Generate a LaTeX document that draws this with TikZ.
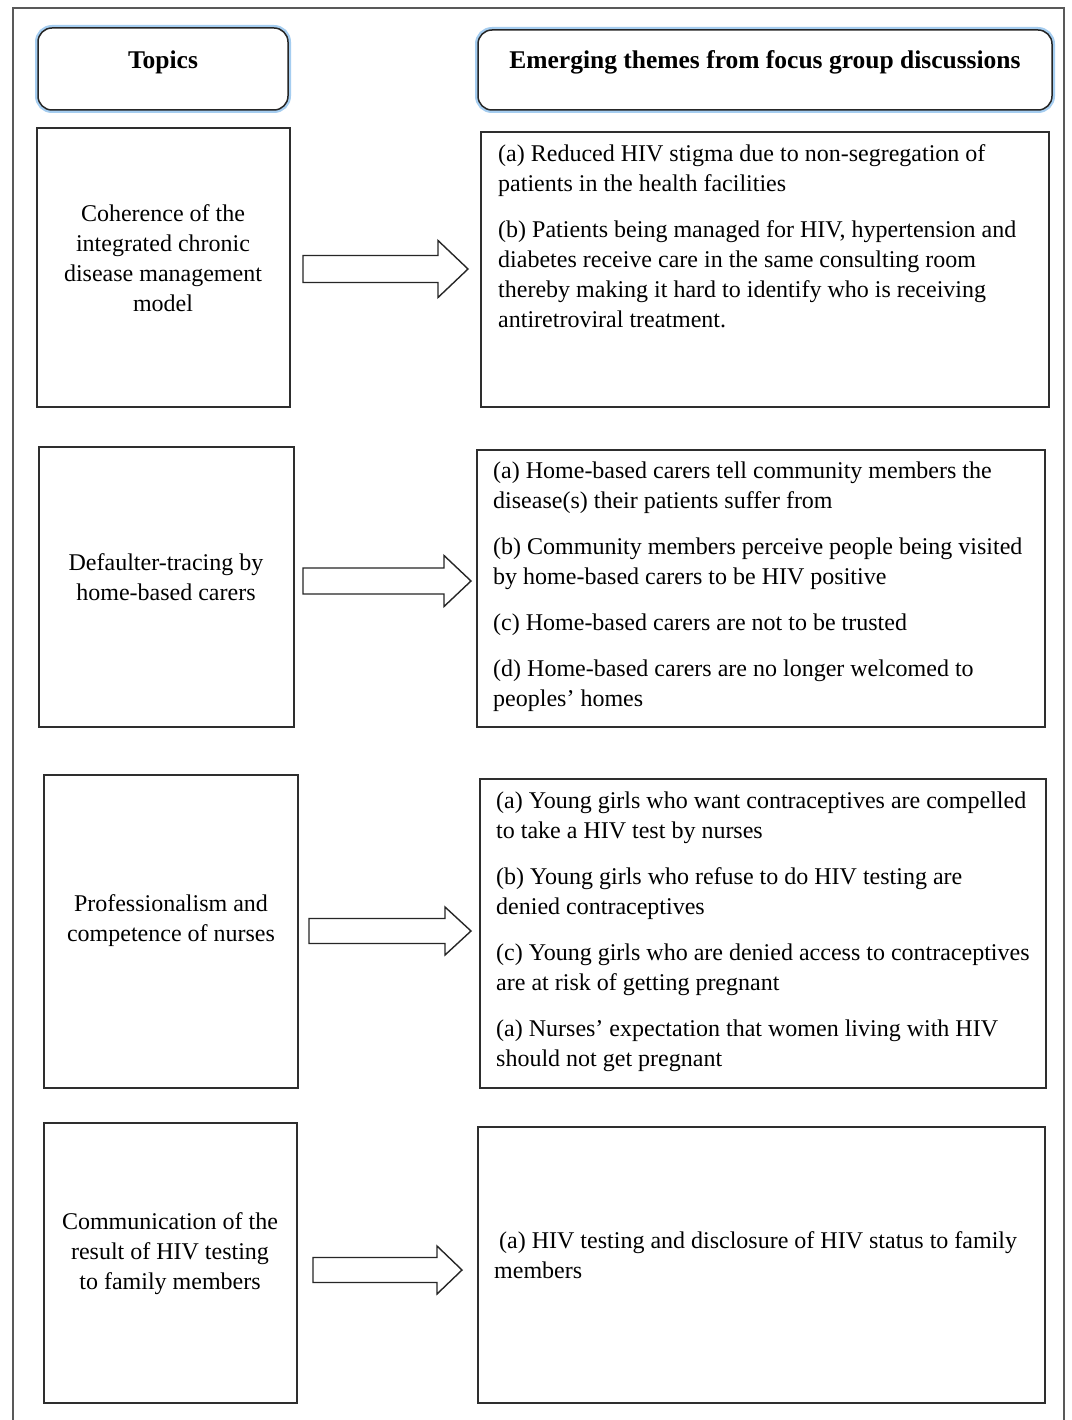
\documentclass[tikz,border=0pt]{standalone}
\usepackage{fontspec}
\setmainfont{Liberation Serif}
\definecolor{glowblue}{RGB}{165,205,240}
\begin{document}
\begin{tikzpicture}[x=1pt,y=-1pt,
  box/.style={draw=black!82, line width=1.6pt, fill=white, inner sep=0pt},
  hdr/.style={draw=black!85, line width=1.5pt, rounded corners=14pt, fill=white, inner sep=0pt},
  glow/.style={draw=glowblue, line width=6pt, rounded corners=14pt, inner sep=0pt},
  barrow/.style={draw=black!85, line width=1.4pt, fill=white, line join=miter},
  ttext/.style={font=\fontsize{24}{30}\selectfont, align=center, inner sep=0pt},
  htext/.style={font=\fontsize{25.5}{30}\selectfont\bfseries, inner sep=0pt},
  ltext/.style={font=\fontsize{24}{30}\selectfont, align=left, anchor=north west, inner sep=0pt}]
\useasboundingbox (0,0) rectangle (1071,1420);
\fill[white] (0,0) rectangle (1071,1420);
% outer frame
\draw[black!65, line width=1.8pt] (13,1425) -- (13,8) -- (1064,8) -- (1064,1425);

% headers
\node[glow, minimum width=250pt, minimum height=82pt] (h1g) at (163,69) {};
\node[hdr, minimum width=250pt, minimum height=82pt] (h1) at (163,69) {};
\node[htext] (h1t) at (163,62) {Topics};
\node[glow, minimum width=574pt, minimum height=80pt] (h2g) at (765,70) {};
\node[hdr, minimum width=574pt, minimum height=80pt] (h2) at (765,70) {};
\node[htext] (h2t) at (765,62) {Emerging themes from focus group discussions};

% topic boxes
\node[box, minimum width=253pt, minimum height=279pt] (t1) at (163.5,267.5) {};
\node[box, minimum width=255pt, minimum height=280pt] (t2) at (166.5,587) {};
\node[box, minimum width=254pt, minimum height=313pt] (t3) at (171,931.5) {};
\node[box, minimum width=253pt, minimum height=280pt] (t4) at (170.5,1263) {};

\node[ttext] (t1t) at (163,258) {Coherence of the\\integrated chronic\\disease management\\model};
\node[ttext] (t2t) at (166,577) {Defaulter-tracing by\\home-based carers};
\node[ttext] (t3t) at (171,921) {Professionalism and\\competence of nurses};
\node[ttext] (t4t) at (170,1254) {Communication of the\\result of HIV testing\\to family members};

% theme boxes
\node[box, minimum width=568pt, minimum height=275pt] (r1) at (765,269.5) {};
\node[box, minimum width=568pt, minimum height=277pt] (r2) at (761,588.5) {};
\node[box, minimum width=566pt, minimum height=309pt] (r3) at (763,933.5) {};
\node[box, minimum width=567pt, minimum height=276pt] (r4) at (761.5,1265) {};

\node[ltext] (r1t) at (498,144) {(a) Reduced HIV stigma due to non-segregation of\\
patients in the health facilities\\[16pt]
(b) Patients being managed for HIV, hypertension and\\
diabetes receive care in the same consulting room\\
thereby making it hard to identify who is receiving\\
antiretroviral treatment.};

\node[ltext] (r2t) at (493,462) {(a) Home-based carers tell community members the\\
disease(s) their patients suffer from\\[16pt]
(b) Community members perceive people being visited\\
by home-based carers to be HIV positive\\[16pt]
(c) Home-based carers are not to be trusted\\[16pt]
(d) Home-based carers are no longer welcomed to\\
peoples’ homes};

\node[ltext] (r3t) at (496,792) {(a) Young girls who want contraceptives are compelled\\
to take a HIV test by nurses\\[16pt]
(b) Young girls who refuse to do HIV testing are\\
denied contraceptives\\[16pt]
(c) Young girls who are denied access to contraceptives\\
are at risk of getting pregnant\\[16pt]
(a) Nurses’ expectation that women living with HIV\\
should not get pregnant};

\node[ltext] (r4t) at (494,1231) {\hspace*{5pt}(a) HIV testing and disclosure of HIV status to family\\
members};

% block arrows
\draw[barrow] (303,255.5) -- (438,255.5) -- (438,240.5) -- (468,269) -- (438,297.5) -- (438,282.5) -- (303,282.5) -- cycle;
\draw[barrow] (303,568) -- (444,568) -- (444,555.5) -- (471,581) -- (444,606.5) -- (444,594) -- (303,594) -- cycle;
\draw[barrow] (309,918.5) -- (445,918.5) -- (445,907) -- (471,931) -- (445,955) -- (445,943.5) -- (309,943.5) -- cycle;
\draw[barrow] (313,1257.5) -- (437,1257.5) -- (437,1246) -- (462,1270) -- (437,1294) -- (437,1282.5) -- (313,1282.5) -- cycle;
\end{tikzpicture}
\end{document}
